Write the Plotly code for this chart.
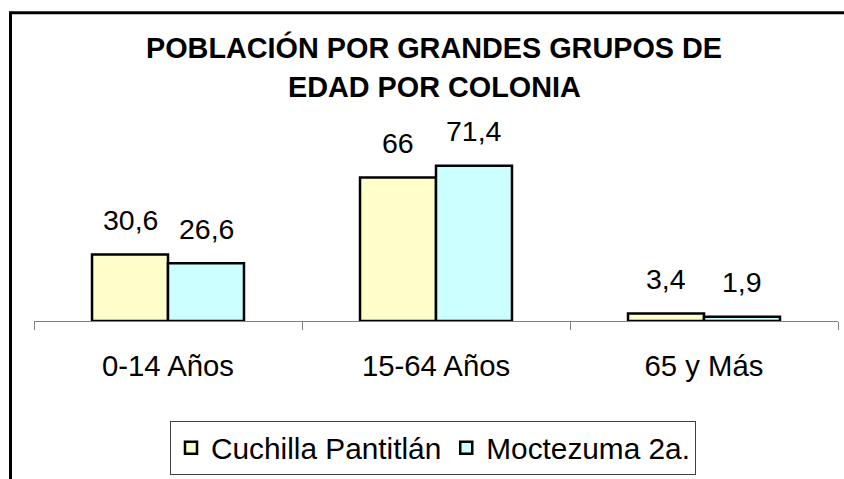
import plotly.graph_objects as go

categories = ["0-14 Años", "15-64 Años", "65 y Más"]
series_names = ["Cuchilla Pantitlán", "Moctezuma 2a."]
cuchilla = [30.6, 66, 3.4]
moctezuma = [26.6, 71.4, 1.9]
title_lines = ["POBLACIÓN POR GRANDES GRUPOS DE", "EDAD POR COLONIA"]

FONT = "Liberation Sans, Arial, sans-serif"
colors = ["#FFFFCC", "#CCFFFF"]
values = [cuchilla, moctezuma]

fig = go.Figure()
for name, vals, col in zip(series_names, values, colors):
    fig.add_trace(go.Bar(
        x=categories, y=vals, name=name,
        marker=dict(color=col, line=dict(color="black", width=2.5)),
    ))

L, R, T, B = 34, 6, 147, 157
W, H = 844, 479
pw, ph = W - L - R, H - T - B

# value labels
half_bar = 38
for i, vals in enumerate(values):
    shift = -half_bar if i == 0 else half_bar
    for c, v in zip(categories, vals):
        fig.add_annotation(
            x=c, y=v, text=f"{v:g}".replace(".", ","), showarrow=False,
            xshift=shift, yshift=34.5, yanchor="middle",
            font=dict(family=FONT, size=28.5, color="black"),
        )

# title lines
for line, yc in zip(title_lines, [47, 87]):
    fig.add_annotation(
        text=f"<b>{line}</b>", showarrow=False,
        xref="paper", yref="paper",
        x=(434 - L) / pw, xanchor="center",
        y=(T + ph - yc) / ph, yanchor="middle",
        font=dict(family=FONT, size=28.8, color="black"),
    )

fig.update_layout(
    width=W, height=H,
    margin=dict(l=L, r=R, t=T, b=B),
    paper_bgcolor="white", plot_bgcolor="white",
    barmode="group", bargap=0.433, bargroupgap=0,
    separators=",.",
    font=dict(family=FONT, size=29, color="black"),
    xaxis=dict(
        showline=True, linecolor="#808080", linewidth=1,
        ticks="outside", tickson="boundaries", ticklen=8, tickcolor="#808080",
        tickfont=dict(family=FONT, size=29.3, color="black"),
        ticklabelstandoff=19,
        showgrid=False, zeroline=False,
    ),
    yaxis=dict(range=[0, 80], visible=False, showgrid=False, zeroline=False),
    showlegend=True,
    legend=dict(
        orientation="h", x=(433 - L) / pw, xanchor="center",
        y=(T + ph - 421) / ph, yanchor="top",
        bordercolor="#404040", borderwidth=1, bgcolor="white",
        font=dict(family=FONT, size=29.8, color="black"),
        traceorder="normal",
    ),
    shapes=[dict(
        type="rect", xref="paper", yref="paper",
        x0=(10.5 - L) / pw, x1=1.5, y0=-3, y1=(T + ph - 12) / ph,
        line=dict(color="black", width=3), fillcolor="rgba(0,0,0,0)",
        layer="below",
    )],
)

fig.write_html(
    "out.html",
    config={"displayModeBar": False},
    post_script="document.body.style.margin='0';document.body.style.overflow='hidden';",
)
